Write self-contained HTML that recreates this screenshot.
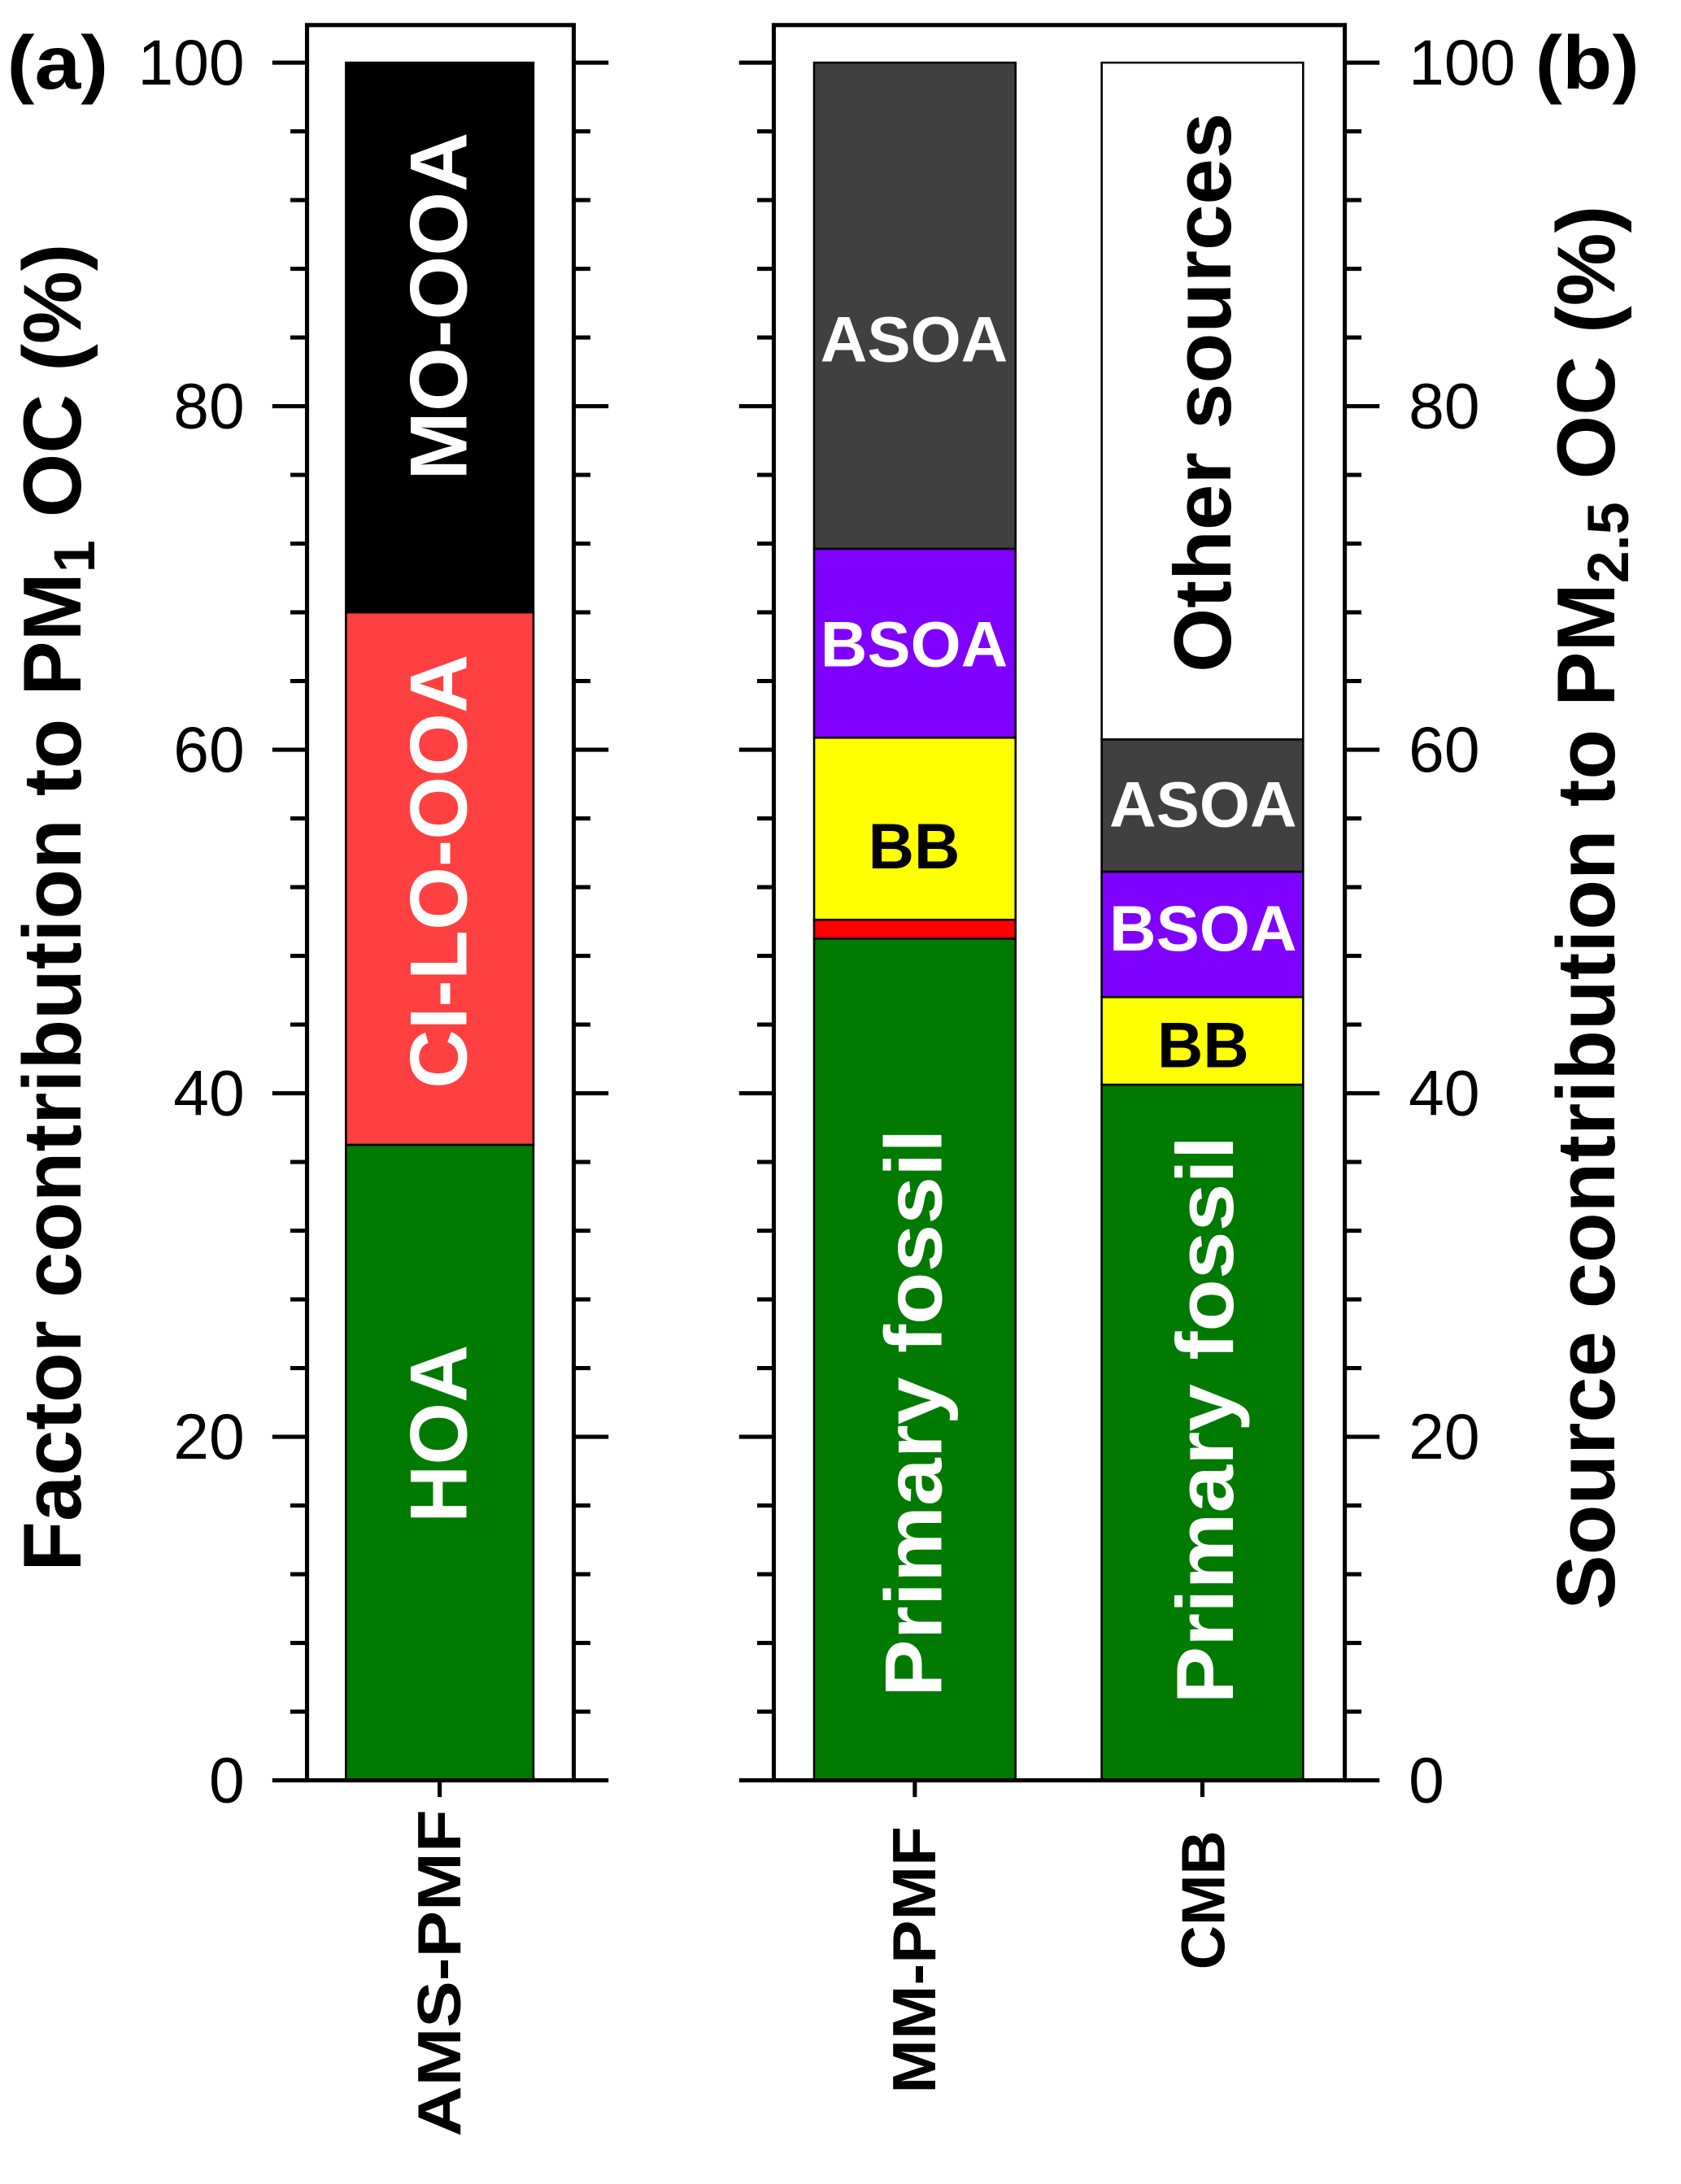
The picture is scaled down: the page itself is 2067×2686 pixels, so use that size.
<!DOCTYPE html>
<html><head><meta charset="utf-8"><style>
html,body{margin:0;padding:0;background:#fff}
svg{display:block}
text{font-family:"Liberation Sans",Arial,sans-serif}
</style></head><body>
<svg id="chart" width="2067" height="2686" viewBox="0 0 1210 1569" preserveAspectRatio="none" xmlns="http://www.w3.org/2000/svg"></svg>
<script>
// ---- data ----
const yTicks = [0,20,40,60,80,100];
const amsCategories = ["HOA","CI-LO-OOA","MO-OOA"];
const amsValues = [37,31,32];
const mmCategories = ["Primary fossil","Other","BB","BSOA","ASOA"];
const mmValues = [49,1.1,10.6,11,28.3];
const cmbCategories = ["Primary fossil","BB","BSOA","ASOA","Other sources"];
const cmbValues = [40.5,5.1,7.3,7.7,39.4];

const NS="http://www.w3.org/2000/svg";
const svg=document.getElementById('chart');
function el(tag,attrs,parent){const e=document.createElementNS(NS,tag);for(const k in attrs)e.setAttribute(k,attrs[k]);(parent||svg).appendChild(e);return e;}
const yTop=45,yBot=1279;
function y(v){return yBot-(yBot-yTop)*v/100;}

const colorMap={"HOA":"#007a00","CI-LO-OOA":"#ff4040","MO-OOA":"#000000","Primary fossil":"#007a00","Other":"#ff0000","BB":"#ffff00","BSOA":"#8000ff","ASOA":"#404040","Other sources":"#ffffff"};

function drawAxes(left,right,name){
  const g=el('g',{});
  
  
  for(let v=0;v<=100;v+=4){
    const major=(v%20===0);
    const len=major?25:12;
    const yy=y(v);
    const t1=el('line',{x1:left-len,x2:left,y1:yy,y2:yy,stroke:'#000','stroke-width':3},g);
    
    
    const t2=el('line',{x1:right,x2:right+len,y1:yy,y2:yy,stroke:'#000','stroke-width':3},g);
    
    
  }
  const box=el('rect',{x:left,y:18,width:right-left,height:yBot-18,fill:'none',stroke:'#000','stroke-width':3},g);
  
  
}

function drawBar(x0,x1,cats,vals,name){
  let acc=0;
  cats.forEach((c,i)=>{
    const r=el('rect',{x:x0,y:y(acc+vals[i]),width:x1-x0,height:y(acc)-y(acc+vals[i]),fill:colorMap[c],stroke:'#000','stroke-width':1.5});
    
    
    acc+=vals[i];
  });
  const cx=(x0+x1)/2;
  const t=el('line',{x1:cx,x2:cx,y1:yBot,y2:yBot+12,stroke:'#000','stroke-width':3});
  
  
}

function label(txt,x,yy,size,fill,rot,name,anchor,len){
  const t=el('text',{x:x,y:yy,'font-size':size,'font-weight':'bold',fill:fill,'text-anchor':anchor||'middle','dominant-baseline':'central'});
  if(rot)t.setAttribute('transform','rotate(-90 '+x+' '+yy+')');
  if(len){t.setAttribute('textLength',len);t.setAttribute('lengthAdjust','spacingAndGlyphs');}
  t.textContent=txt;
  
  
  return t;
}

// bars
drawBar(249,384,amsCategories,amsValues,'ams-pmf-bar');
drawBar(586,731,mmCategories,mmValues,'mm-pmf-bar');
drawBar(793,938,cmbCategories,cmbValues,'cmb-bar');
drawAxes(221,413,'panel-a');
drawAxes(557,968,'panel-b');

// tick labels
yTicks.forEach(v=>{
  const a=el('text',{x:176,y:y(v),'font-size':46,'text-anchor':'end','dominant-baseline':'central'});
  a.textContent=v;
  
  
  const b=el('text',{x:1014,y:y(v),'font-size':46,'text-anchor':'start','dominant-baseline':'central'});
  b.textContent=v;
  
  
});

// in-bar labels
label('MO-OOA',316,220,58,'#fff',true,'label-mo-ooa','middle',250);
label('CI-LO-OOA',316,626,58,'#fff',true,'label-ci-lo-ooa','middle',312);
label('HOA',316,1030,58,'#fff',true,'label-hoa','middle',128);
label('Primary  fossil',658,1015,58,'#fff',true,'label-primary-fossil-mm','middle',408);
label('Primary  fossil',868,1020,58,'#fff',true,'label-primary-fossil-cmb','middle',408);
label('Other sources',866,282,58,'#000',true,'label-other-sources','middle',402);
label('ASOA',658,244,46,'#fff',false,'label-asoa-mm','middle',135);
label('BSOA',658,463,46,'#fff',false,'label-bsoa-mm','middle',135);
label('BB',658,608,46,'#000',false,'label-bb-mm','middle',66);
label('ASOA',866,578,46,'#fff',false,'label-asoa-cmb','middle',135);
label('BSOA',866,667,46,'#fff',false,'label-bsoa-cmb','middle',135);
label('BB',866,751,46,'#000',false,'label-bb-cmb','middle',66);

// category labels
label('AMS-PMF',316,1300,44,'#000',true,'x-label-ams-pmf','end',235);
label('MM-PMF',658,1312,44,'#000',true,'x-label-mm-pmf','end',192);
label('CMB',866,1315,44,'#000',true,'x-label-cmb','end',100);

// panel letters
label('(a)',5,45,54,'#000',false,'panel-label-a','start',73);
label('(b)',1105,45,54,'#000',false,'panel-label-b','start',75);

// axis titles
const ta=el('text',{x:38,y:652,'font-size':59,'font-weight':'bold','text-anchor':'middle','dominant-baseline':'central',transform:'rotate(-90 38 652)'});
ta.innerHTML='Factor contribution to PM<tspan font-size="42" dy="16">1</tspan><tspan dy="-16"> OC (%)</tspan>';


const tb=el('text',{x:1142,y:652,'font-size':59,'font-weight':'bold','text-anchor':'middle','dominant-baseline':'central',transform:'rotate(-90 1142 652)'});
tb.innerHTML='Source contribution to PM<tspan font-size="42" dy="16">2.5</tspan><tspan dy="-16"> OC (%)</tspan>';


</script>
</body></html>
